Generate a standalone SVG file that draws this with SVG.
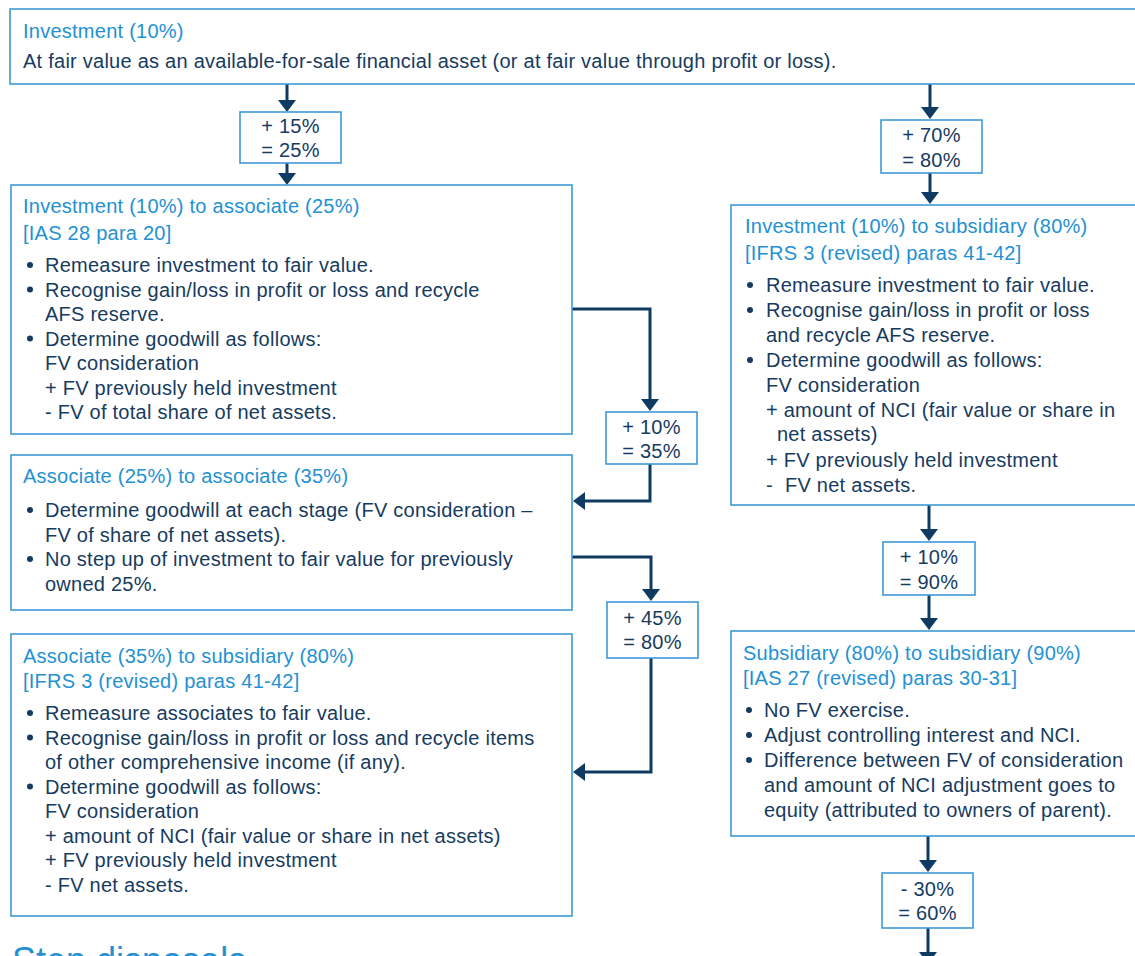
<svg xmlns="http://www.w3.org/2000/svg" width="1135" height="956" viewBox="0 0 1135 956">
<defs>
<marker id="ah" viewBox="0 0 12 18" refX="2" refY="9" markerWidth="12" markerHeight="18" orient="auto" markerUnits="userSpaceOnUse">
<path d="M0,0 L12,9 L0,18 z" fill="#0f3b63"/>
</marker>
<style>
.box{fill:#ffffff;stroke:#3d9ad8;stroke-width:1.6}
.t{font-family:"Liberation Sans",Arial,sans-serif;font-size:20px;letter-spacing:0.25px;fill:#163b5f}
.h{font-family:"Liberation Sans",Arial,sans-serif;font-size:20px;letter-spacing:0.25px;fill:#2391d3}
.c{text-anchor:middle}
.b{fill:#163b5f}
.con{fill:none;stroke:#0f3b63;stroke-width:3;marker-end:url(#ah)}
</style>
</defs>
<rect width="1135" height="956" fill="#ffffff"/>

<g id="connectors">
<path class="con" d="M287,84 V102"/>
<path class="con" d="M287,163 V175"/>
<path class="con" d="M572,309 H650 V401"/>
<path class="con" d="M650,464 V501 H583"/>
<path class="con" d="M572,557 H651 V591"/>
<path class="con" d="M651,658 V772 H583"/>
<path class="con" d="M930,84 V109"/>
<path class="con" d="M930,173 V194"/>
<path class="con" d="M929,505 V531"/>
<path class="con" d="M929,595 V620"/>
<path class="con" d="M928,835 V862"/>
<path class="con" d="M928,928 V954"/>
</g>

<g id="n-investment">
<rect class="box" x="10" y="9" width="1140" height="75"/>
<text class="h" x="23" y="38">Investment (10%)</text>
<text class="t" x="23" y="68">At fair value as an available-for-sale financial asset (or at fair value through profit or loss).</text>
</g>

<g id="n-plus15">
<rect class="box" x="240" y="112" width="101" height="51"/>
<text class="t c" x="290.5" y="133">+ 15%</text>
<text class="t c" x="290.5" y="157">= 25%</text>
</g>

<g id="n-inv-assoc">
<rect class="box" x="11" y="185" width="561" height="249"/>
<text class="h" x="23" y="213">Investment (10%) to associate (25%)</text>
<text class="h" x="23" y="240">[IAS 28 para 20]</text>
<circle class="b" cx="30" cy="265" r="3"/>
<circle class="b" cx="30" cy="289.5" r="3"/>
<circle class="b" cx="30" cy="338.5" r="3"/>
<text class="t" x="45" y="272">Remeasure investment to fair value.</text>
<text class="t" x="45" y="296.5">Recognise gain/loss in profit or loss and recycle</text>
<text class="t" x="45" y="321">AFS reserve.</text>
<text class="t" x="45" y="345.5">Determine goodwill as follows:</text>
<text class="t" x="45" y="370">FV consideration</text>
<text class="t" x="45" y="394.5">+ FV previously held investment</text>
<text class="t" x="45" y="419">- FV of total share of net assets.</text>
</g>

<g id="n-plus10a">
<rect class="box" x="606" y="412" width="91" height="52"/>
<text class="t c" x="651.5" y="434">+ 10%</text>
<text class="t c" x="651.5" y="458">= 35%</text>
</g>

<g id="n-assoc-assoc">
<rect class="box" x="11" y="455" width="561" height="155"/>
<text class="h" x="23" y="483">Associate (25%) to associate (35%)</text>
<circle class="b" cx="30" cy="510" r="3"/>
<circle class="b" cx="30" cy="559" r="3"/>
<text class="t" x="45" y="517">Determine goodwill at each stage (FV consideration –</text>
<text class="t" x="45" y="541.5">FV of share of net assets).</text>
<text class="t" x="45" y="566">No step up of investment to fair value for previously</text>
<text class="t" x="45" y="590.5">owned 25%.</text>
</g>

<g id="n-plus45">
<rect class="box" x="607" y="602" width="91" height="56"/>
<text class="t c" x="652.5" y="625">+ 45%</text>
<text class="t c" x="652.5" y="649">= 80%</text>
</g>

<g id="n-assoc-sub">
<rect class="box" x="11" y="634" width="561" height="282"/>
<text class="h" x="23" y="663">Associate (35%) to subsidiary (80%)</text>
<text class="h" x="23" y="688">[IFRS 3 (revised) paras 41-42]</text>
<circle class="b" cx="30" cy="713" r="3"/>
<circle class="b" cx="30" cy="737.5" r="3"/>
<circle class="b" cx="30" cy="786.5" r="3"/>
<text class="t" x="45" y="720">Remeasure associates to fair value.</text>
<text class="t" x="45" y="744.5">Recognise gain/loss in profit or loss and recycle items</text>
<text class="t" x="45" y="769">of other comprehensive income (if any).</text>
<text class="t" x="45" y="793.5">Determine goodwill as follows:</text>
<text class="t" x="45" y="818">FV consideration</text>
<text class="t" x="45" y="842.5">+ amount of NCI (fair value or share in net assets)</text>
<text class="t" x="45" y="867">+ FV previously held investment</text>
<text class="t" x="45" y="891.5">- FV net assets.</text>
</g>

<g id="n-plus70">
<rect class="box" x="881" y="120" width="101" height="53"/>
<text class="t c" x="931.5" y="142">+ 70%</text>
<text class="t c" x="931.5" y="167">= 80%</text>
</g>

<g id="n-inv-sub">
<rect class="box" x="731" y="205" width="420" height="300"/>
<text class="h" x="745" y="233">Investment (10%) to subsidiary (80%)</text>
<text class="h" x="745" y="260">[IFRS 3 (revised) paras 41-42]</text>
<circle class="b" cx="750" cy="285" r="3"/>
<circle class="b" cx="750" cy="310" r="3"/>
<circle class="b" cx="750" cy="360" r="3"/>
<text class="t" x="766" y="292">Remeasure investment to fair value.</text>
<text class="t" x="766" y="317">Recognise gain/loss in profit or loss</text>
<text class="t" x="766" y="342">and recycle AFS reserve.</text>
<text class="t" x="766" y="367">Determine goodwill as follows:</text>
<text class="t" x="766" y="392">FV consideration</text>
<text class="t" x="766" y="417">+ amount of NCI (fair value or share in</text>
<text class="t" x="777" y="441">net assets)</text>
<text class="t" x="766" y="467">+ FV previously held investment</text>
<text class="t" x="766" y="492">-</text>
<text class="t" x="785" y="492">FV net assets.</text>
</g>

<g id="n-plus10b">
<rect class="box" x="883" y="542" width="92" height="53"/>
<text class="t c" x="929" y="564">+ 10%</text>
<text class="t c" x="929" y="589">= 90%</text>
</g>

<g id="n-sub-sub">
<rect class="box" x="731" y="631" width="420" height="205"/>
<text class="h" x="743" y="660">Subsidiary (80%) to subsidiary (90%)</text>
<text class="h" x="743" y="685">[IAS 27 (revised) paras 30-31]</text>
<circle class="b" cx="749" cy="710" r="3"/>
<circle class="b" cx="749" cy="735" r="3"/>
<circle class="b" cx="749" cy="760" r="3"/>
<text class="t" x="764" y="717">No FV exercise.</text>
<text class="t" x="764" y="742">Adjust controlling interest and NCI.</text>
<text class="t" x="764" y="767">Difference between FV of consideration</text>
<text class="t" x="764" y="792">and amount of NCI adjustment goes to</text>
<text class="t" x="764" y="817">equity (attributed to owners of parent).</text>
</g>

<g id="n-minus30">
<rect class="box" x="882" y="873" width="91" height="55"/>
<text class="t c" x="927.5" y="896">- 30%</text>
<text class="t c" x="927.5" y="920">= 60%</text>
</g>

<text x="12" y="973" font-family="Liberation Sans, Arial, sans-serif" font-size="36" fill="#2391d3">Step disposals</text>
</svg>
